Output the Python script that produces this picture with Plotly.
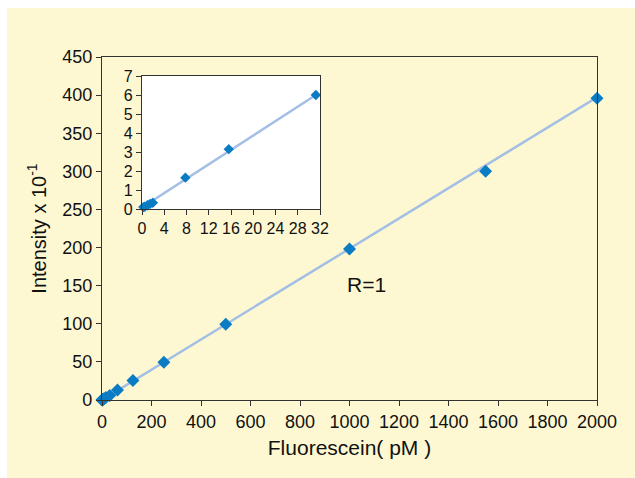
import plotly.graph_objects as go

# Main data (Fluorescein pM vs Intensity x 10^-1)
main_x = [0.24, 0.49, 0.98, 1.95, 3.9, 7.8, 15.6, 31.25, 62.5, 125, 250, 500, 1000, 1550, 2000]
main_y = [0.1, 0.15, 0.2, 0.35, 0.8, 1.65, 3.15, 6.0, 13, 25.5, 49.5, 99.5, 198, 300, 396]
fit_x = [0, 2000]
fit_y = [0, 397]

# Inset data
ins_x = [0.24, 0.49, 0.98, 1.46, 1.95, 7.8, 15.6, 31.25]
ins_y = [0.1, 0.12, 0.2, 0.27, 0.33, 1.65, 3.15, 6.0]
ins_fit_x = [0, 31.25]
ins_fit_y = [0.08, 6.0]

main_xticks = list(range(0, 2001, 200))
main_yticks = list(range(0, 451, 50))
ins_xticks = list(range(0, 33, 4))
ins_yticks = list(range(0, 8, 1))

FONT = "Arial, Liberation Sans, sans-serif"
MARK = "#0a7cc4"
LINE = "#a3bfe5"
AX = "#333333"

fig = go.Figure()
fig.add_trace(go.Scatter(x=fit_x, y=fit_y, mode="lines", line=dict(color=LINE, width=2.5),
                         xaxis="x", yaxis="y", showlegend=False, hoverinfo="skip"))
fig.add_trace(go.Scatter(x=main_x, y=main_y, mode="markers",
                         marker=dict(symbol="diamond", size=10, color=MARK),
                         xaxis="x", yaxis="y", cliponaxis=False, showlegend=False))
fig.add_trace(go.Scatter(x=ins_fit_x, y=ins_fit_y, mode="lines", line=dict(color=LINE, width=2.5),
                         xaxis="x2", yaxis="y2", showlegend=False, hoverinfo="skip"))
fig.add_trace(go.Scatter(x=ins_x, y=ins_y, mode="markers",
                         marker=dict(symbol="diamond", size=8, color=MARK),
                         xaxis="x2", yaxis="y2", cliponaxis=False, showlegend=False))

L, R, T, B = 102, 38, 57, 78
W, H = 635, 478
pw = W - L - R
ph = H - T - B

def px(xp):
    return (xp - L) / pw

def py(yp):
    return (H - B - yp) / ph

def axis_common(fs):
    return dict(showgrid=False, zeroline=False, showline=True, linecolor=AX, linewidth=1.2,
                mirror=True, ticks="outside", ticklen=5, tickwidth=1.2, tickcolor=AX,
                tickfont=dict(family=FONT, size=fs, color="#111"))

fig.update_layout(
    width=W, height=H,
    margin=dict(l=L, r=R, t=T, b=B),
    paper_bgcolor="white",
    plot_bgcolor="white",
    font=dict(family=FONT, color="#111"),
    xaxis=dict(range=[0, 2000], tickvals=main_xticks, domain=[0, 1],
               title=dict(text="Fluorescein( pM )", font=dict(family=FONT, size=21), standoff=9),
               **axis_common(18)),
    yaxis=dict(range=[0, 450], tickvals=main_yticks, domain=[0, 1],
               title=dict(text="Intensity x 10<sup>-1</sup>", font=dict(family=FONT, size=20), standoff=10),
               **axis_common(18)),
    xaxis2=dict(range=[0, 32], tickvals=ins_xticks, domain=[px(142), px(320)], anchor="y2",
                **axis_common(16)),
    yaxis2=dict(range=[0, 7], tickvals=ins_yticks, domain=[py(209), py(76)], anchor="x2",
                **axis_common(16)),
    shapes=[dict(type="rect", xref="paper", yref="paper", layer="below",
                 x0=px(7), x1=px(640), y0=py(8), y1=py(482),
                 fillcolor="#fdf8d2", line=dict(width=0))],
    annotations=[dict(x=1070, y=151, xref="x", yref="y", text="R=1", showarrow=False,
                      font=dict(family=FONT, size=21, color="#111"))],
)

fig.write_html("out.html")
